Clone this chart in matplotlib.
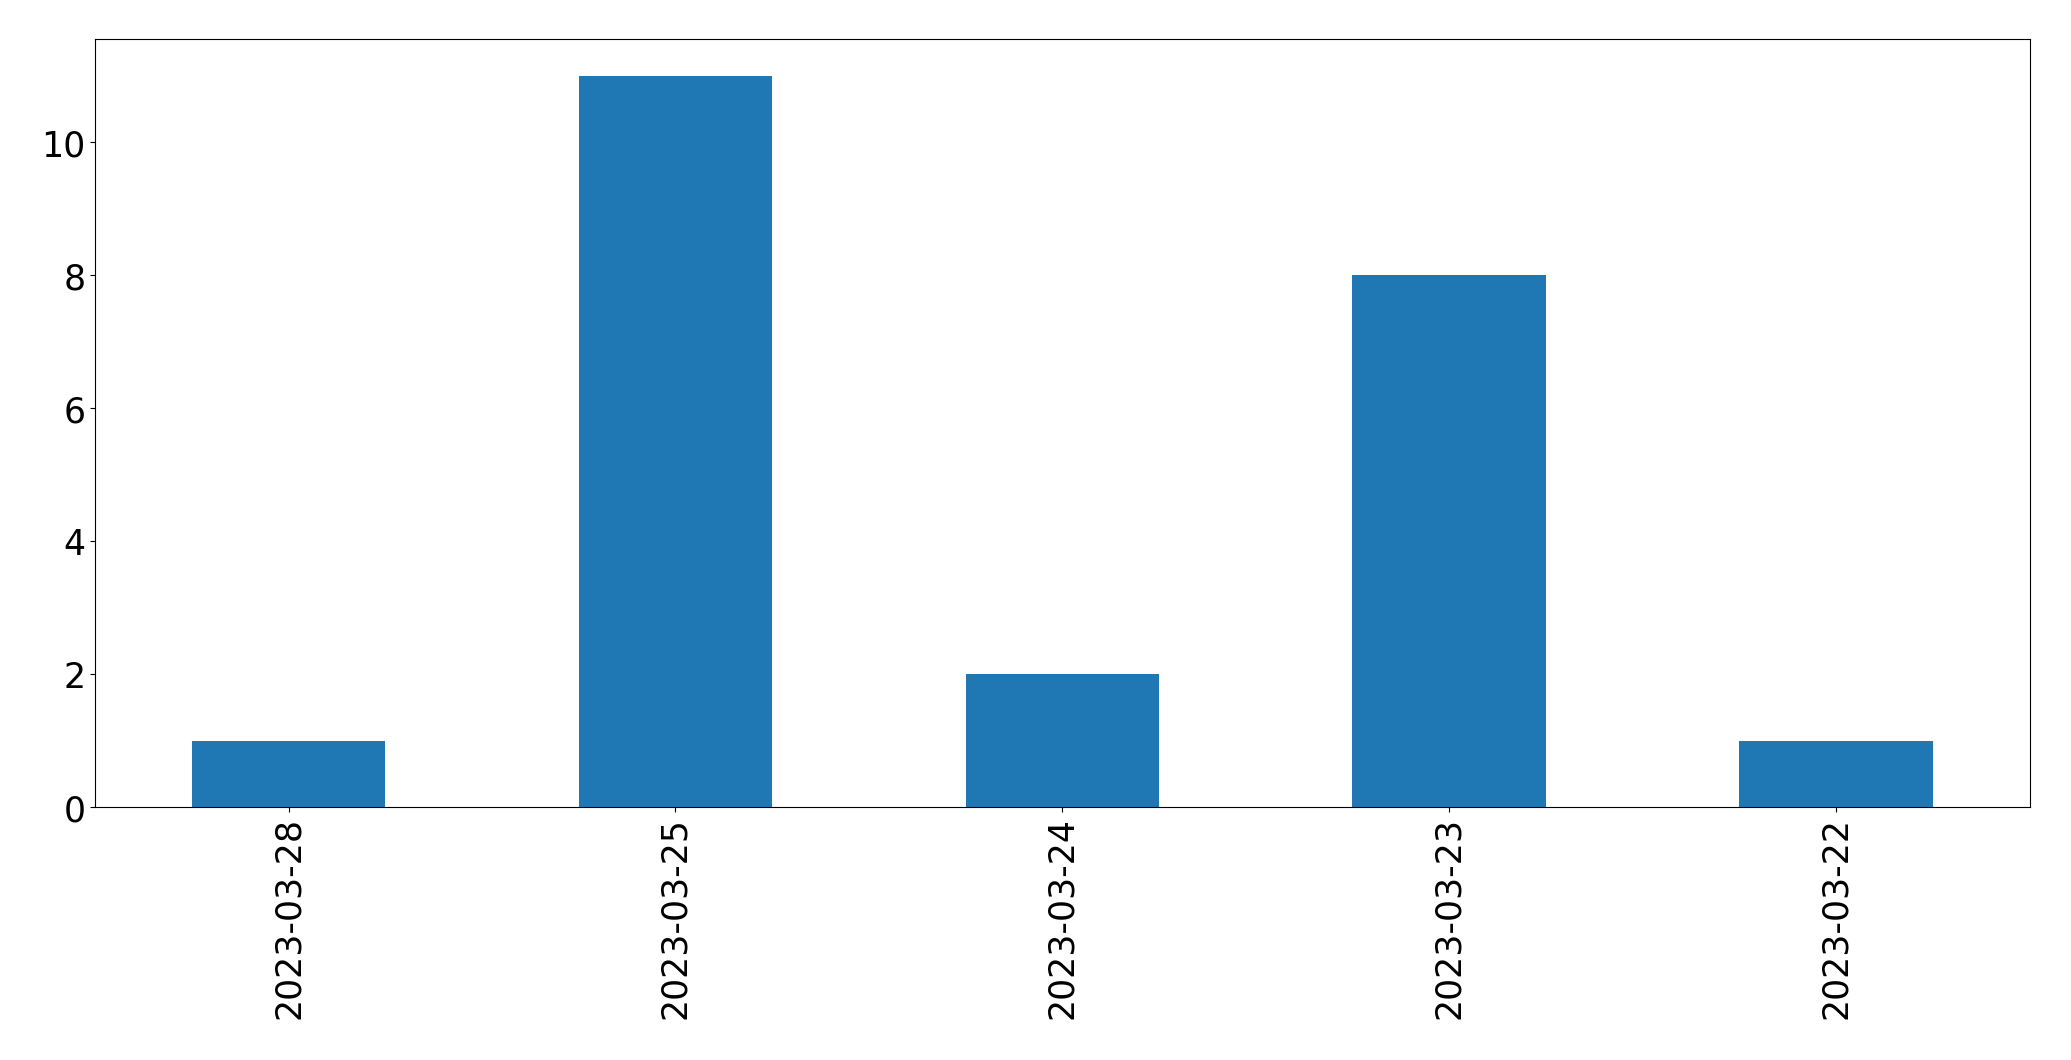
import matplotlib
matplotlib.use("Agg")
import matplotlib.pyplot as plt

dates = ["2023-03-28", "2023-03-25", "2023-03-24", "2023-03-23", "2023-03-22"]
counts = [1, 11, 2, 8, 1]

fig = plt.figure(figsize=(20.71, 10.605), dpi=100)
ax = fig.add_axes([0.0459, 0.2385, 0.9341, 0.7242])
x = list(range(len(dates)))
ax.bar(x, counts, width=0.5, color="#1f77b4")
ax.set_xlim(-0.5, len(dates) - 0.5)
ax.set_ylim(0, 11.55)
ax.set_xticks(x)
ax.set_xticklabels(dates, rotation=90)
ax.set_yticks([0, 2, 4, 6, 8, 10])
ax.tick_params(labelsize=25)
fig.savefig("out.png", dpi=100)
